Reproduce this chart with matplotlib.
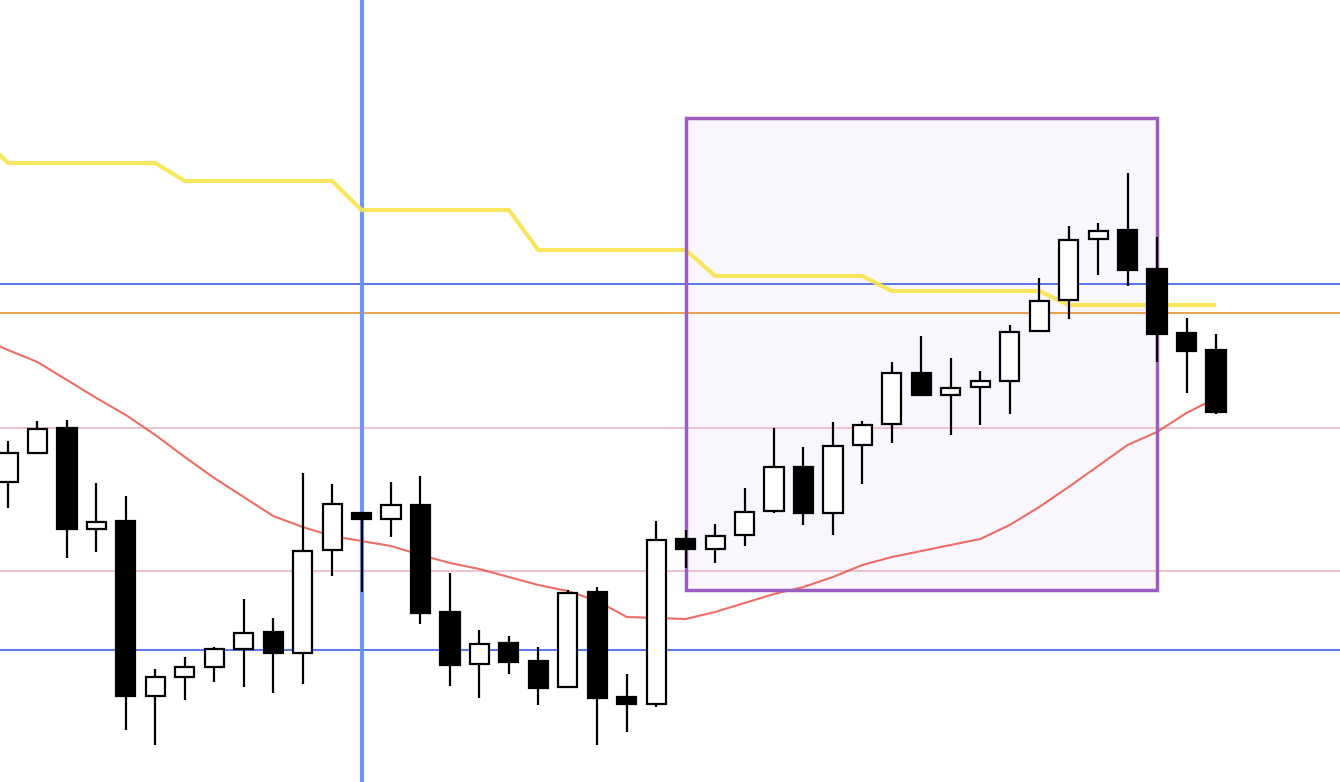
import matplotlib
matplotlib.use("Agg")
import matplotlib.pyplot as plt
from matplotlib.patches import Rectangle

# OHLC (price units), one candle per bar
opens  = [300, 329, 354, 253, 261, 86, 105, 115, 133, 150, 129, 232, 269, 263, 277, 170, 118, 139, 121, 95,
          190, 85, 78, 243, 233, 247, 271, 315, 269, 337, 358, 409, 387, 395, 401, 451, 482, 543, 552, 513,
          449, 432]
highs  = [341, 361, 362, 299, 286, 113, 125, 135, 183, 164, 309, 298, 269, 300, 306, 209, 152, 146, 135, 192,
          195, 108, 261, 252, 258, 294, 354, 335, 360, 361, 420, 446, 424, 411, 457, 504, 556, 559, 609, 545,
          464, 448]
lows   = [274, 328, 224, 230, 52, 37, 82, 100, 95, 89, 98, 206, 190, 245, 158, 96, 84, 108, 77, 95,
          37, 50, 75, 214, 219, 236, 269, 257, 247, 298, 339, 387, 347, 357, 368, 451, 463, 507, 496, 420,
          389, 368]
closes = [329, 353, 253, 260, 86, 105, 115, 133, 149, 129, 231, 278, 263, 277, 169, 117, 138, 120, 94, 189,
          84, 78, 242, 233, 246, 270, 315, 269, 336, 357, 409, 387, 394, 401, 450, 481, 542, 551, 512, 448,
          431, 370]

# indicator lines, starting one bar before the first candle
line_start = -1
upper_line = [648, 619, 619, 619, 619, 619, 619, 601, 601, 601, 601, 601, 601, 572, 572, 572, 572, 572, 572,
              532, 532, 532, 532, 532, 532, 506, 506, 506, 506, 506, 506, 491, 491, 491, 491, 491, 491,
              477, 477, 477, 477, 477, 477]
moving_avg = [445, 432, 420, 402, 384, 367, 347, 325, 304, 285, 266, 255, 246, 241, 236, 227, 219, 213, 205,
              197, 191, 181, 165, 164, 163, 170, 179, 188, 195, 205, 217, 225, 231, 237, 243, 257, 275, 295,
              316, 337, 350, 369, 384]

# horizontal levels
blue_levels = [498, 132]
orange_level = 469
pink_levels = [354, 211]
marker_bar = 12

# highlighted zone
zone_bars = (23, 39)
zone_prices = (192, 664)

fig = plt.figure(figsize=(13.4, 7.82), dpi=100)
ax = fig.add_axes([0, 0, 1, 1])
ax.set_xlim(-0.272, 45.21)
ax.set_ylim(0, 782)
ax.axis("off")

# zone fill
ax.add_patch(Rectangle((zone_bars[0], zone_prices[0]), zone_bars[1] - zone_bars[0],
                       zone_prices[1] - zone_prices[0], facecolor="#f9f7fd", edgecolor="none", zorder=1))

for lv in pink_levels:
    ax.axhline(lv, color="#efb6c8", lw=1.2, zorder=2)
for lv in blue_levels:
    ax.axhline(lv, color="#3b5fe6", lw=1.2, zorder=2)
ax.axhline(orange_level, color="#e8922e", lw=1.2, zorder=2)
ax.axvline(marker_bar, color="#7195f6", lw=3, zorder=2)

xs = list(range(line_start, line_start + len(upper_line)))
ax.plot(xs, upper_line, color="#f9e44c", lw=3, alpha=0.9, solid_capstyle="butt", zorder=3)
ax.plot(xs, moving_avg, color="#ec5d52", lw=1.5, alpha=0.9, zorder=3)

# zone border
ax.add_patch(Rectangle((zone_bars[0], zone_prices[0]), zone_bars[1] - zone_bars[0],
                       zone_prices[1] - zone_prices[0], facecolor="none", edgecolor="#9d5cbf",
                       lw=2.5, zorder=4))

# candles
w = 0.65
for i, (o, h, l, c) in enumerate(zip(opens, highs, lows, closes)):
    ax.vlines(i, l, h, color="black", lw=1.6, zorder=5)
    up = c >= o
    ax.add_patch(Rectangle((i - w / 2, min(o, c)), w, max(abs(c - o), 1),
                           facecolor="white" if up else "black", edgecolor="black",
                           lw=1.6, zorder=6))

fig.savefig("out.png", dpi=100, facecolor="white")
